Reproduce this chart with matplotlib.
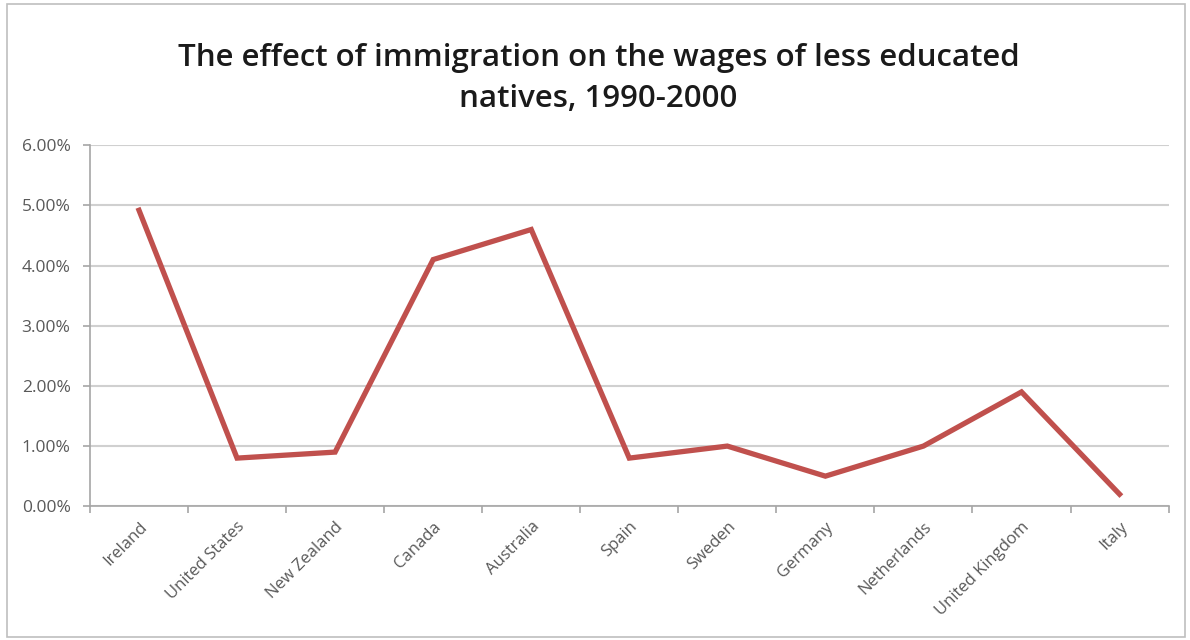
import matplotlib.pyplot as plt
import numpy as np
from matplotlib.patches import Rectangle

plt.rcParams['font.family'] = ['Open Sans', 'DejaVu Sans']

countries = ['Ireland', 'United States', 'New Zealand', 'Canada', 'Australia',
             'Spain', 'Sweden', 'Germany', 'Netherlands', 'United Kingdom', 'Italy']
effect = [4.92, 0.8, 0.9, 4.1, 4.6, 0.8, 1.0, 0.5, 1.0, 1.9, 0.2]  # percent
yticks = [0, 1, 2, 3, 4, 5, 6]

fig = plt.figure(figsize=(11.9, 6.4), dpi=100)
ax = fig.add_axes([0.0756, 0.209, 0.9064, 0.564])

x = np.arange(len(countries))
ax.plot(x, effect, color='#C0504D', lw=3.8, solid_joinstyle='miter', zorder=3)

ax.set_xlim(-0.5, len(countries) - 0.5)
ax.set_ylim(0, 6)
ax.set_yticks(yticks)
ax.set_yticklabels(['{:.2f}%'.format(v) for v in yticks], color='#595959', fontsize=12.5)
ax.yaxis.grid(True, color='#D0D0D0', lw=1.5)
ax.set_axisbelow(True)

ax.set_xticks(x)
ax.set_xticklabels(countries, rotation=45, ha='right', va='top',
                   rotation_mode='anchor', color='#595959', fontsize=12)
ax.tick_params(axis='x', which='major', length=0, pad=9)
ax.set_xticks(np.arange(-0.5, len(countries)), minor=True)
ax.tick_params(axis='x', which='minor', length=5, color='#A6A6A6', width=1.2)
ax.tick_params(axis='y', length=5, color='#A6A6A6', width=1.2, pad=9)

for s in ['top', 'right']:
    ax.spines[s].set_visible(False)
for s in ['left', 'bottom']:
    ax.spines[s].set_color('#A6A6A6')
    ax.spines[s].set_linewidth(1.2)

fig.text(0.503, 0.877, 'The effect of immigration on the wages of less educated\nnatives, 1990-2000',
         ha='center', va='center', fontsize=22.5, fontweight='semibold',
         linespacing=1.5, color='#1a1a1a')

fig.patches.append(Rectangle((0.006, 0.005), 0.99, 0.988, transform=fig.transFigure,
                             fill=False, edgecolor='#BFBFBF', lw=1.2))

fig.savefig('out.png', dpi=100)
